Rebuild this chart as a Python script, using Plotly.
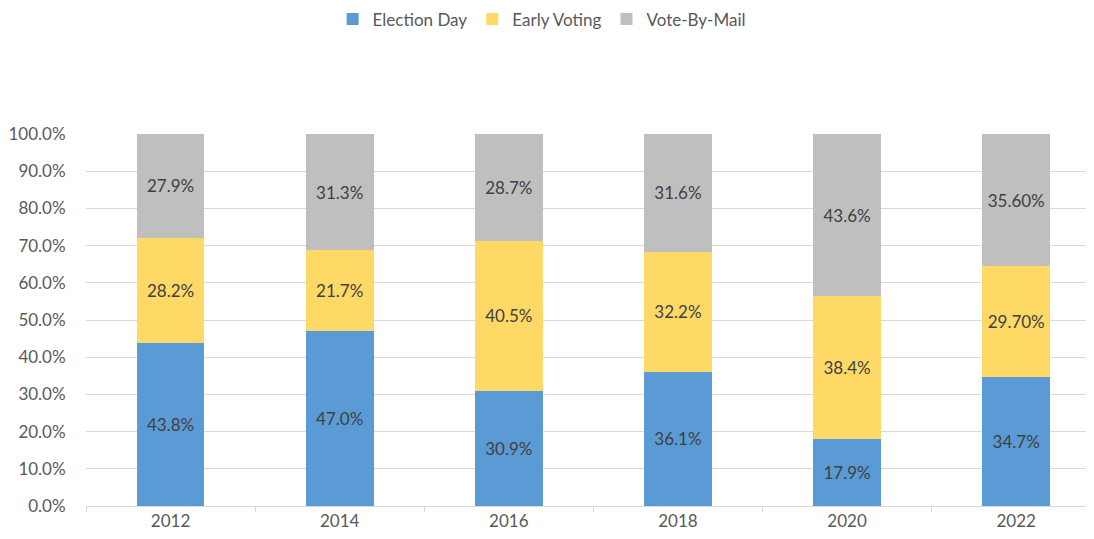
import plotly.graph_objects as go

years = ["2012", "2014", "2016", "2018", "2020", "2022"]
election_day = [43.8, 47.0, 30.9, 36.1, 17.9, 34.7]
early_voting = [28.2, 21.7, 40.5, 32.2, 38.4, 29.7]
vote_by_mail = [27.9, 31.3, 28.7, 31.6, 43.6, 35.6]
election_day_labels = ["43.8%", "47.0%", "30.9%", "36.1%", "17.9%", "34.7%"]
early_voting_labels = ["28.2%", "21.7%", "40.5%", "32.2%", "38.4%", "29.70%"]
vote_by_mail_labels = ["27.9%", "31.3%", "28.7%", "31.6%", "43.6%", "35.60%"]
y_ticks = [0, 10, 20, 30, 40, 50, 60, 70, 80, 90, 100]
y_tick_labels = ["0.0%", "10.0%", "20.0%", "30.0%", "40.0%", "50.0%",
                 "60.0%", "70.0%", "80.0%", "90.0%", "100.0%"]

FONT = "Lato"
FS = 17
series = [
    ("Election Day", election_day, election_day_labels, "#5B9BD5"),
    ("Early Voting", early_voting, early_voting_labels, "#FFD966"),
    ("Vote-By-Mail", vote_by_mail, vote_by_mail_labels, "#BFBFBF"),
]

fig = go.Figure()
for name, vals, labels, color in series:
    fig.add_trace(go.Bar(
        x=years, y=vals, name=name, marker_color=color, marker_line_width=0,
        text=labels, textposition="inside", insidetextanchor="middle", textangle=0,
        textfont=dict(family=FONT, size=FS, color="#404040"),
        hoverinfo="skip",
    ))

fig.update_layout(
    barmode="stack", barnorm="percent", bargap=0.6,
    width=1094, height=539,
    margin=dict(l=78, r=8, t=126, b=41, autoexpand=False),
    paper_bgcolor="white", plot_bgcolor="white",
    font=dict(family=FONT, size=FS, color="#595959"),
    legend=dict(orientation="h", x=0.452, xanchor="center",
                y=1.308, yanchor="middle",
                font=dict(family=FONT, size=FS, color="#595959"), traceorder="normal",
                itemwidth=30),
    uniformtext=dict(mode=False),
)
fig.update_xaxes(
    range=[-0.5, 5.46], showline=True, linecolor="#D9D9D9", linewidth=1,
    ticks="outside", tickson="boundaries", ticklen=5, tickcolor="#D9D9D9",
    showgrid=False, automargin=False, tickfont=dict(family=FONT, size=FS, color="#595959"),
)
fig.update_yaxes(
    range=[0, 100], tickmode="array", tickvals=y_ticks, ticktext=y_tick_labels,
    showgrid=True, gridcolor="#D9D9D9", gridwidth=1, zeroline=False, showline=False,
    ticks="outside", ticklen=16, tickcolor="rgba(0,0,0,0)", automargin=False,
    tickfont=dict(family=FONT, size=FS, color="#595959"),
)

fig.write_html("out.html")
